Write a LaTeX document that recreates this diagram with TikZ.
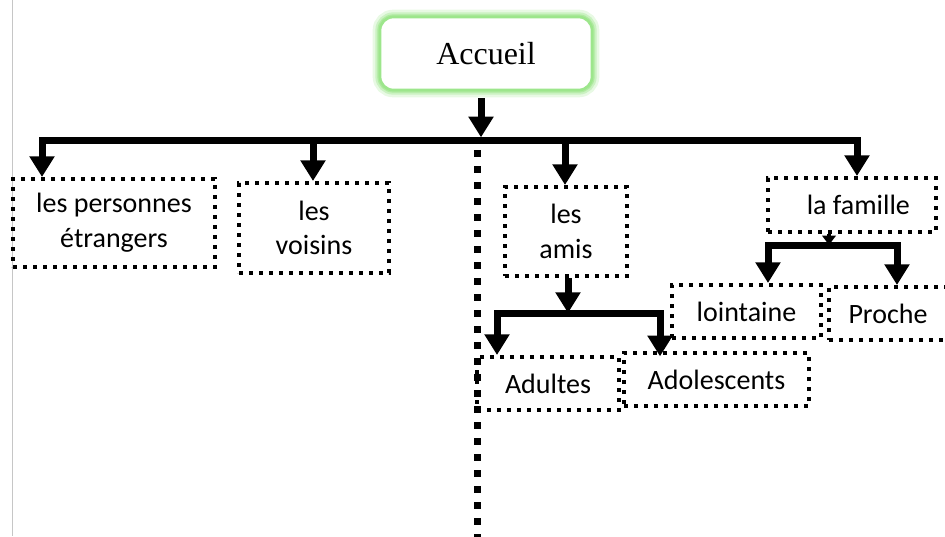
\documentclass[tikz,border=0pt]{standalone}
\usepackage{fontspec}
\newfontfamily\calib{Carlito}
\newfontfamily\titrefont{Liberation Serif}
\usepackage{tikz}
\usetikzlibrary{arrows.meta, calc}
\definecolor{glowgreen}{RGB}{140,225,120}

\begin{document}
\begin{tikzpicture}[x=0.75pt, y=-0.75pt,
    boite/.style={draw, line width=3pt, dash pattern=on 3.2pt off 4.3pt,
        inner sep=0pt, align=center, font=\calib\fontsize{21}{26}\selectfont},
    titre/.style={draw=glowgreen!85, line width=2pt, rounded corners=10pt, fill=white,
        preaction={draw=glowgreen!20, line width=11pt},
        preaction={draw=glowgreen!45, line width=7pt},
        preaction={draw=glowgreen!70, line width=4pt},
        minimum width=159pt, minimum height=54.75pt, font=\titrefont\fontsize{24}{28}\selectfont},
    fleche/.style={line width=5.25pt, -{Triangle[width=18pt, length=15.5pt]}},
    petite/.style={line width=2.5pt, -{Triangle[width=10pt, length=7pt]}},
    barre/.style={line width=5.25pt, line cap=rect},
    pointille/.style={line width=5.25pt, dash pattern=on 5.25pt off 6.75pt}]
                \useasboundingbox (0,0) rectangle (945,536);
                \draw[gray!45, line width=0.75pt] (12,0) -- (12,536);
                % nodes
                \node[titre] (acc) at (486,53.5) {Accueil};
                \node[boite, minimum width=151.5pt, minimum height=66pt] (etr) at (114,223) {les personnes\\étrangers};
                \node[boite, minimum width=112.5pt, minimum height=67.5pt] (voi) at (314,228) {les\\voisins};
                \node[boite, minimum width=91.5pt, minimum height=66.75pt] (ami) at (566,231.5) {les\\amis};
                \node[boite, minimum width=126pt, minimum height=40.5pt] (fam) at (852,205) {\ \ la famille};
                \node[boite, minimum width=111.75pt, minimum height=39.75pt] (loi) at (746.5,311.5) {lointaine};
                \node[boite, minimum width=88.5pt, minimum height=39.75pt] (pro) at (888,313.5) {Proche};
                \node[boite, minimum width=106.5pt, minimum height=39.75pt] (adu) at (548,383.5) {Adultes};
                \node[boite, minimum width=138.75pt, minimum height=39.75pt] (ado) at (716.5,379.5) {Adolescents};
                % main bar
                \coordinate (hub) at (481,140);
                \coordinate (bE) at (42,140);
                \coordinate (bV) at (313,140);
                \coordinate (bA) at (565,140);
                \coordinate (bF) at (857,140);
                \draw[pointille] (477,150) -- (477,540);
                \draw[fleche] ([yshift=-5pt]hub |- acc.south) -- ([yshift=2pt]hub);
                \draw[barre] (bE) -- (bF);
                \draw[fleche] (bE) -- (bE |- etr.north);
                \draw[fleche] (bV) -- (bV |- voi.north);
                \draw[fleche] (bA) -- (bA |- ami.north);
                \draw[fleche] (bF) -- (bF |- fam.north);
                % la famille
                \coordinate (fH) at (829,245);
                \coordinate (fL) at (768,245);
                \coordinate (fP) at (897,245);
                \draw[petite] (fH |- fam.south) -- (fH);
                \draw[barre] (fL) -- (fP);
                \draw[fleche] (fL) -- (fL |- loi.north);
                \draw[fleche] (fP) -- (fP |- pro.north);
                % les amis
                \coordinate (aH) at (568,313);
                \coordinate (aL) at (497,313);
                \coordinate (aR) at (660,313);
                \draw[fleche] (aH |- ami.south) -- (aH);
                \draw[barre] (aL) -- (aR);
                \draw[fleche] (aL) -- (aL |- adu.north);
                \draw[fleche] (aR) -- ([yshift=-4pt]aR |- ado.north);
            \end{tikzpicture}
\end{document}
